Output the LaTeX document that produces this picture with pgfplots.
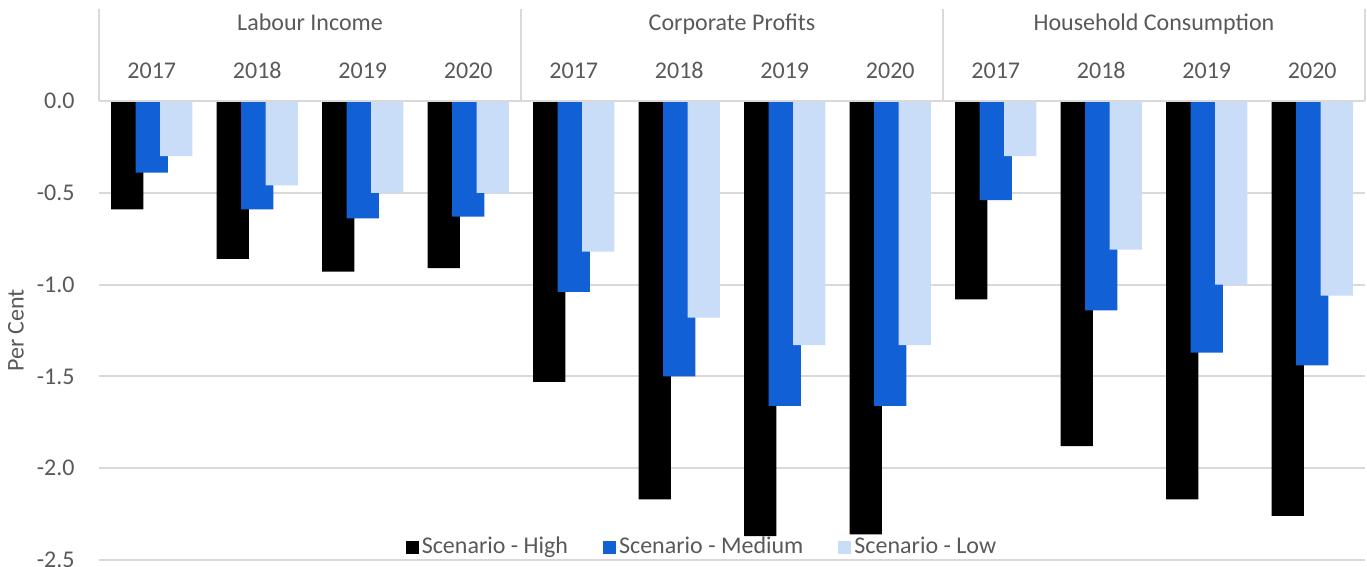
\documentclass[border=0pt]{standalone}
\usepackage{fontspec}
\setmainfont{Carlito}
\usepackage{pgfplots}
\pgfplotsset{compat=1.18}
\definecolor{hiC}{HTML}{000000}
\definecolor{medC}{HTML}{1160D6}
\definecolor{lowC}{HTML}{C9DCF8}
\definecolor{gridC}{HTML}{D9D9D9}
\definecolor{txtC}{HTML}{595959}
\newcommand{\ff}{\fontsize{12}{14}\selectfont}
\pgfplotsset{sqleg/.style={legend image code/.code={\fill[##1] (0pt,-3.25pt) rectangle (6.5pt,3.25pt);}}}
\begin{document}
\begin{tikzpicture}
\useasboundingbox (-49.5pt,-3.5pt) rectangle (634pt,280pt);
\begin{axis}[
  at={(0pt,0pt)}, anchor=south west,
  scale only axis, width=633pt, height=229.5pt,
  xmin=-0.5, xmax=11.5, ymin=-2.5, ymax=0,
  clip=false,
  axis line style={draw=none},
  major tick length=0pt,
  xtick={0,...,11},
  xticklabels={2017,2018,2019,2020,2017,2018,2019,2020,2017,2018,2019,2020},
  xticklabel pos=upper,
  xticklabel style={anchor=base, inner sep=0pt, yshift=11.3pt},
  ytick={-2.5,-2,-1.5,-1,-0.5,0},
  yticklabels={-2.5,-2.0,-1.5,-1.0,-0.5,0.0},
  yticklabel style={anchor=east, inner sep=0pt, xshift=-12pt},
  tick label style={font=\ff, text=txtC},
  ymajorgrids, grid style={gridC, line width=1pt},
  ylabel={Per Cent},
  ylabel style={at={(rel axis cs:-0.0656,0.5)}, anchor=center, font=\ff, text=txtC},
  legend columns=3,
  legend cell align=left,
  legend style={at={(0.4767,0.0283)}, anchor=center, draw=none, fill=none,
    font=\ff, text=txtC, inner sep=0pt,
    nodes={inner sep=1.5pt},
    /tikz/every even column/.append style={column sep=16pt}},
]
\addplot[ybar, bar width=16.1pt, bar shift=-12.25pt, fill=hiC, draw=none, sqleg] coordinates {
(0,-0.59) (1,-0.86) (2,-0.93) (3,-0.91) (4,-1.53) (5,-2.17) (6,-2.37) (7,-2.36) (8,-1.08) (9,-1.88) (10,-2.17) (11,-2.26)};
\addlegendentry{Scenario - High}
\addplot[ybar, bar width=16.1pt, bar shift=0pt, fill=medC, draw=none, sqleg] coordinates {
(0,-0.39) (1,-0.59) (2,-0.64) (3,-0.63) (4,-1.04) (5,-1.50) (6,-1.66) (7,-1.66) (8,-0.54) (9,-1.14) (10,-1.37) (11,-1.44)};
\addlegendentry{Scenario - Medium}
\addplot[ybar, bar width=16.1pt, bar shift=12.25pt, fill=lowC, draw=none, sqleg] coordinates {
(0,-0.30) (1,-0.46) (2,-0.50) (3,-0.50) (4,-0.82) (5,-1.18) (6,-1.33) (7,-1.33) (8,-0.30) (9,-0.81) (10,-1.00) (11,-1.06)};
\addlegendentry{Scenario - Low}
\draw[gridC, line width=1.3pt] (axis cs:-0.5,0) -- (axis cs:11.5,0);
\draw[gridC, line width=1pt] (axis cs:-0.5,0) -- ++(0pt,46pt);
\draw[gridC, line width=1pt] (axis cs:3.5,0) -- ++(0pt,46pt);
\draw[gridC, line width=1pt] (axis cs:7.5,0) -- ++(0pt,46pt);
\draw[gridC, line width=1pt] (axis cs:11.5,0) -- ++(0pt,46pt);
\node[anchor=base, yshift=35pt, font=\ff, text=txtC, inner sep=0pt] at (axis cs:1.5,0) {Labour Income};
\node[anchor=base, yshift=35pt, font=\ff, text=txtC, inner sep=0pt] at (axis cs:5.5,0) {Corporate Profits};
\node[anchor=base, yshift=35pt, font=\ff, text=txtC, inner sep=0pt] at (axis cs:9.5,0) {Household Consumption};
\end{axis}
\end{tikzpicture}
\end{document}
